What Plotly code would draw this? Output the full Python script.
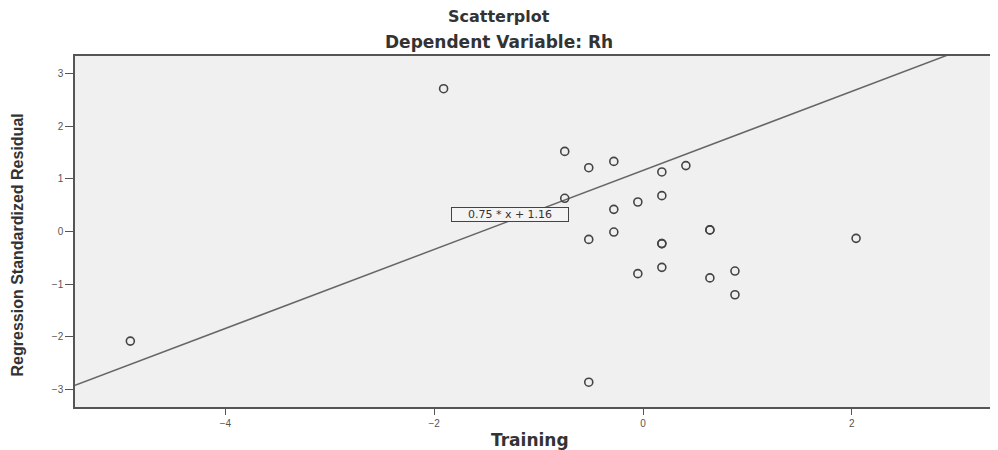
import plotly.graph_objects as go

# Data
training = [-1.91, -4.91, -0.75, -0.52, -0.28, 0.18, 0.41, -0.75, 0.18, -0.05,
            -0.28, -0.28, -0.52, 0.18, 0.18, 0.64, 0.64, 2.04, -0.05, 0.18,
            0.64, 0.88, 0.88, -0.52]
residual = [2.71, -2.08, 1.52, 1.21, 1.33, 1.13, 1.25, 0.63, 0.68, 0.56,
            0.42, -0.01, -0.15, -0.23, -0.23, 0.03, 0.03, -0.13, -0.80, -0.68,
            -0.88, -0.75, -1.20, -2.86]
slope = 0.75
intercept = 1.16
x_range = [-5.44, 3.38]
y_range = [-3.33, 3.33]
x_ticks = [-4, -2, 0, 2]
y_ticks = [-3, -2, -1, 0, 1, 2, 3]

fit_x = x_range
fit_y = [slope * v + intercept for v in fit_x]

fig = go.Figure()
fig.add_trace(go.Scatter(
    x=fit_x, y=fit_y, mode="lines",
    line=dict(color="#666666", width=1.5),
    hoverinfo="skip", showlegend=False))
fig.add_trace(go.Scatter(
    x=training, y=residual, mode="markers",
    marker=dict(symbol="circle-open", size=8, color="#444444",
                line=dict(color="#444444", width=1.6)),
    showlegend=False))

title_font = dict(family="DejaVu Sans", size=17, color="#333333", weight="bold")

fig.update_layout(
    width=990, height=442,
    margin=dict(l=67, r=0, t=48, b=43),
    paper_bgcolor="white",
    plot_bgcolor="#f0f0f0",
    showlegend=False,
    xaxis=dict(range=x_range, tickvals=x_ticks, showgrid=False, zeroline=False,
               showline=True, linecolor="#555555", linewidth=1.5, mirror=True,
               ticks="outside", ticklen=6, tickcolor="#555555", tickwidth=1,
               tickfont=dict(family="Liberation Sans", size=10, color="#555555")),
    yaxis=dict(range=y_range, tickvals=y_ticks, showgrid=False, zeroline=False,
               showline=True, linecolor="#555555", linewidth=1.5, mirror=True,
               ticks="outside", ticklen=8, tickcolor="#555555", tickwidth=1,
               tickfont=dict(family="Liberation Sans", size=10, color="#555555")),
    annotations=[
        dict(text="Scatterplot", xref="paper", yref="paper", x=0.4605, y=1.112,
             xanchor="center", yanchor="middle", showarrow=False,
             font=dict(family="DejaVu Sans", size=16, color="#333333", weight="bold")),
        dict(text="Dependent Variable: Rh", xref="paper", yref="paper", x=0.4605, y=1.041,
             xanchor="center", yanchor="middle", showarrow=False, font=title_font),
        dict(text="Training", xref="paper", yref="paper", x=0.494, y=-0.095,
             xanchor="center", yanchor="middle", showarrow=False, font=title_font),
        dict(text="Regression Standardized Residual", xref="paper", yref="paper",
             x=-0.0628, y=0.4607, xanchor="center", yanchor="middle", textangle=-90,
             showarrow=False,
             font=dict(family="Liberation Sans", size=16, color="#333333", weight="bold")),
        dict(text="0.75 * x + 1.16", xref="x", yref="y", x=-1.27, y=0.32,
             xanchor="center", yanchor="middle", showarrow=False,
             width=114, height=11, borderpad=1,
             bordercolor="#444444", borderwidth=1, bgcolor="#f4f4f4",
             font=dict(family="DejaVu Sans", size=11, color="#333333")),
    ],
)

fig.write_html("out.html")
